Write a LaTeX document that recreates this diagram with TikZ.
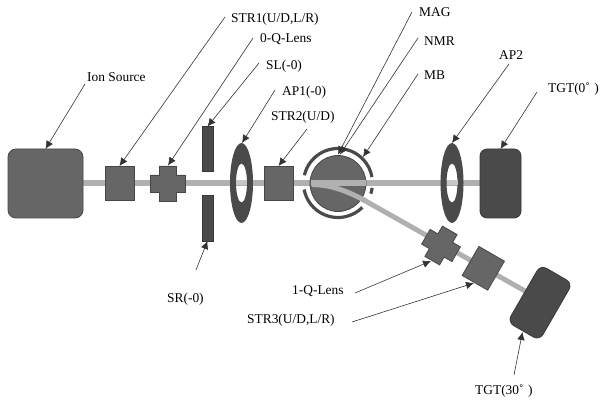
\documentclass[tikz,border=0pt]{standalone}
\usepackage{fontspec}
\setmainfont{Liberation Serif}
\usetikzlibrary{arrows.meta}
\begin{document}
\begin{tikzpicture}[x=1pt,y=-1pt,
  lbl/.style={anchor=base west,inner sep=0pt,font=\fontsize{13.4}{15}\selectfont,text=black},
  lead/.style={draw=black!80,line width=0.6pt,-{Latex[length=8pt,width=7.5pt]}},
  beam/.style={draw=black!31,line width=5.5pt},
  mid/.style={fill=black!60,draw=black!72,line width=0.8pt},
  dark/.style={fill=black!71,draw=black!78,line width=0.8pt},
  blk/.style={inner sep=0pt,outer sep=0pt},
  ring/.style={draw=black!71,line width=3.2pt},
  hole/.style={fill=black!71,even odd rule},
  crossshape/.pic={\draw[mid] (-8.5,-17.5)--(8.5,-17.5)--(8.5,-8.5)--(17.5,-8.5)--(17.5,8.5)--(8.5,8.5)--(8.5,17.5)--(-8.5,17.5)--(-8.5,8.5)--(-17.5,8.5)--(-17.5,-8.5)--(-8.5,-8.5)--cycle;},
]
\useasboundingbox (0,0) rectangle (611,401);
% beams
\draw[beam] (83,183) -- (482,183);
\draw[beam,line width=5pt] (313,184) .. controls (335,185) and (350,193) .. (362,199) -- (525,291);
% blocks
\node[mid,blk,rounded corners=8pt,minimum width=75pt,minimum height=69pt] (ion) at (45.5,183.5) {};
\node[mid,blk,minimum width=29pt,minimum height=34pt] (strone) at (119.5,183) {};
\pic at (167.5,183.5) {crossshape};
\coordinate (lenszero) at (168,165.5);
\node[dark,blk,minimum width=11pt,minimum height=45pt] (sl) at (207.5,149) {};
\node[dark,blk,minimum width=11pt,minimum height=46pt] (sr) at (207.5,218) {};
% apertures
\fill[hole] (241.5,183) ellipse [x radius=11.5,y radius=40] (241.5,183) ellipse [x radius=5.5,y radius=19.5];
\coordinate (apone) at (242,143);
\draw[draw=black!22,line width=5pt] (236,183) -- (247,183);
\fill[hole] (452,183) ellipse [x radius=11.5,y radius=40] (452,183) ellipse [x radius=5.5,y radius=19.5];
\coordinate (aptwo) at (452,143);
\draw[draw=black!22,line width=5pt] (446.5,183) -- (457.5,183);
\node[mid,blk,minimum width=29pt,minimum height=34pt] (strtwo) at (278.5,183) {};
% magnet
\node[mid,blk,circle,minimum size=56pt] (mag) at (338,183.5) {};
\draw[beam] (310.5,183) -- (366,183);
\draw[beam,line width=5pt] (312,184.5) .. controls (335,185) and (350,193) .. (366,201);
\begin{scope}[shift={(338,183)},y=1pt]
\draw[ring] (167:34.5) arc[start angle=167,end angle=10,radius=34.5];
\draw[ring] (191:34.5) arc[start angle=191,end angle=315,radius=34.5];
\draw[ring] (342:34.5) arc[start angle=342,end angle=352,radius=34.5];
\end{scope}
\coordinate (magtop) at (338,154.5);
\coordinate (nmrtop) at (340,154.5);
\coordinate (mbtop) at (363,157);
% right branch
\node[dark,blk,rounded corners=7pt,minimum width=41pt,minimum height=69pt] (tgtz) at (500.5,183.5) {};
\pic[rotate=-30] at (441,245.5) {crossshape};
\coordinate (lensone) at (431,261);
\node[mid,blk,rotate=-30,minimum width=29.5pt,minimum height=33.5pt] (strthree) at (483.3,268.3) {};
\node[dark,blk,rotate=-30,rounded corners=7pt,minimum width=37pt,minimum height=66pt] (tgtt) at (540,302.7) {};
\coordinate (strthreetip) at (474,283);
\coordinate (tgtttip) at (522.5,332);
% labels
\node[lbl] (lion) at (87,82) {Ion Source};
\node[lbl] (lstrone) at (231,23) {STR1(U/D,L/R)};
\node[lbl] (lzero) at (260,43) {0-Q-Lens};
\node[lbl] (lsl) at (266,70) {SL(-0)};
\node[lbl] (lapone) at (282,96) {AP1(-0)};
\node[lbl] (lstrtwo) at (271,121) {STR2(U/D)};
\node[lbl] (lmag) at (419,17) {MAG};
\node[lbl] (lnmr) at (424,46) {NMR};
\node[lbl] (lmb) at (424,80) {MB};
\node[lbl] (laptwo) at (499,60) {AP2};
\node[lbl] (ltgtz) at (548,93) {TGT(0˚\,\,)};
\node[lbl] (lsr) at (167,302) {SR(-0)};
\node[lbl] (lone) at (292,294) {1-Q-Lens};
\node[lbl] (lstrthree) at (247,323) {STR3(U/D,L/R)};
\node[lbl] (ltgtt) at (475,394) {TGT(30˚\,\,)};
% leader start points
\coordinate (a1) at (85,84);
\coordinate (a2) at (225,17);
\coordinate (a3) at (253,38);
\coordinate (a4) at (259,63);
\coordinate (a5) at (275,90);
\coordinate (a6) at (307,129);
\coordinate (a7) at (412,12);
\coordinate (a8) at (418,38);
\coordinate (a9) at (418,74);
\coordinate (a10) at (509,64);
\coordinate (a11) at (537,92);
\coordinate (a12) at (196,270);
\coordinate (a13) at (355,293);
\coordinate (a14) at (352,322);
\coordinate (a15) at (514,375);
\draw[lead] (a1) -- (ion.north);
\draw[lead] (a2) -- (strone.north);
\draw[lead] (a3) -- (lenszero);
\draw[lead] (a4) -- (sl.north);
\draw[lead] (a5) -- (apone);
\draw[lead] (a6) -- (strtwo.north);
\draw[lead] (a7) -- (magtop);
\draw[lead] (a8) -- (nmrtop);
\draw[lead] (a9) -- (mbtop);
\draw[lead] (a10) -- (aptwo);
\draw[lead] (a11) -- (tgtz.north);
\draw[lead] (a12) -- (sr.south);
\draw[lead] (a13) -- (lensone);
\draw[lead] (a14) -- (strthreetip);
\draw[lead] (a15) -- (tgtttip);
\end{tikzpicture}
\end{document}
